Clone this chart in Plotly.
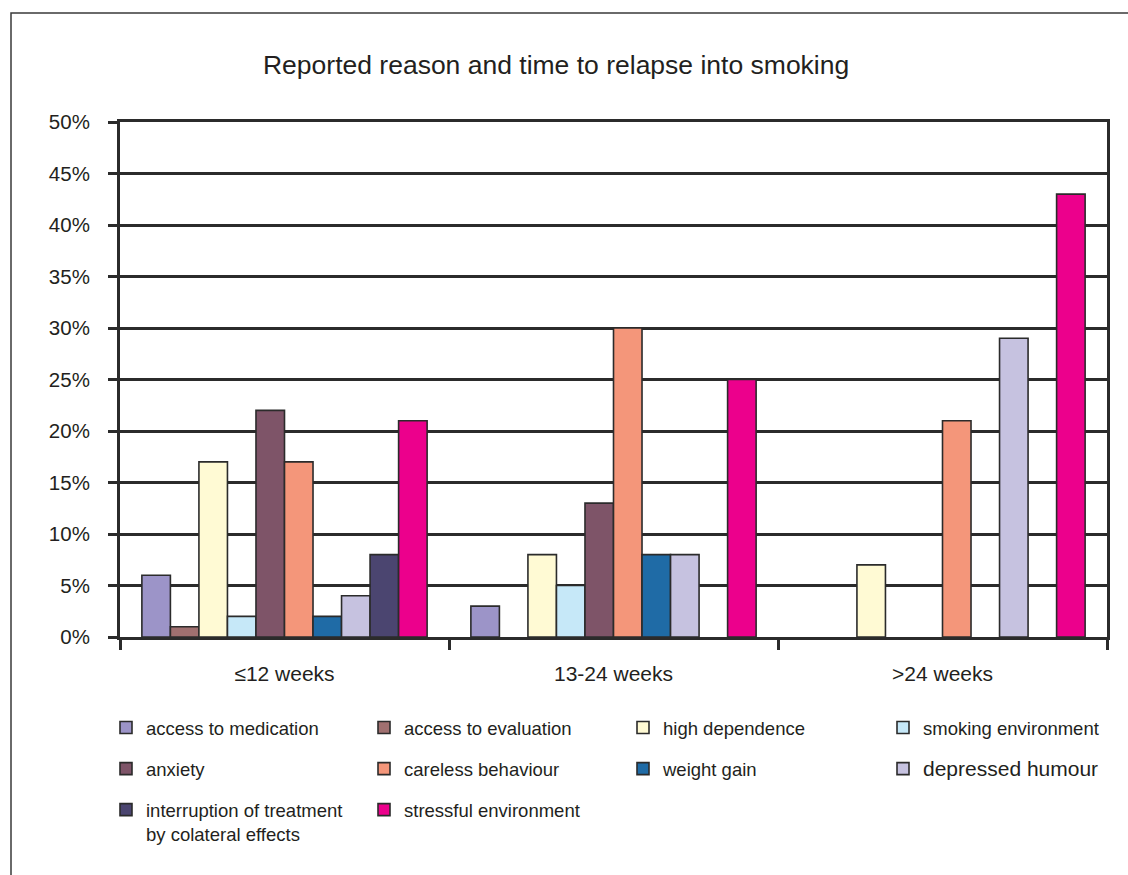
import plotly.graph_objects as go

categories = ["≤12 weeks", "13-24 weeks", ">24 weeks"]

series_names = [
    "access to medication",
    "access to evaluation",
    "high dependence",
    "smoking environment",
    "anxiety",
    "careless behaviour",
    "weight gain",
    '<span style="font-size:21px">depressed humour</span>',
    "interruption of treatment<br>by colateral effects",
    "stressful environment",
]

access_to_medication = [6, 3, 0]
access_to_evaluation = [1, 0, 0]
high_dependence = [17, 8, 7]
smoking_environment = [2, 5, 0]
anxiety = [22, 13, 0]
careless_behaviour = [17, 30, 21]
weight_gain = [2, 8, 0]
depressed_humour = [4, 8, 29]
interruption_of_treatment = [8, 0, 0]
stressful_environment = [21, 25, 43]

series_values = [
    access_to_medication, access_to_evaluation, high_dependence,
    smoking_environment, anxiety, careless_behaviour, weight_gain,
    depressed_humour, interruption_of_treatment, stressful_environment,
]

colors = [
    "#9c94c8", "#a07070", "#fffad4", "#c6e8f8", "#7e5468",
    "#f4967a", "#1f6ba6", "#c6c2e0", "#4b4570", "#ec008c",
]

# legend columns (left to right)
legend_ids = ["legend", "legend2", "legend3", "legend4",
              "legend", "legend2", "legend3", "legend4",
              "legend", "legend2"]

TEXT = "#231f20"
LINE = "#2b2b2b"
FONT = "Liberation Sans, Arial, sans-serif"

fig = go.Figure()
for i, (name, vals, col, lg) in enumerate(zip(series_names, series_values, colors, legend_ids)):
    fig.add_trace(go.Bar(
        x=categories, y=vals, name=name,
        marker=dict(color=col,
                    line=dict(color=LINE, width=[1.6 if v else 0 for v in vals])),
        legend=lg, legendgroup=f"g{i}",
    ))

legend_common = dict(
    orientation="v", tracegroupgap=14,
    font=dict(family=FONT, size=18.5, color=TEXT),
    bgcolor="rgba(0,0,0,0)", borderwidth=0,
    xref="paper", xanchor="left",
    yref="paper", yanchor="top", valign="top",
    y=(637 - 709) / 515,
    itemclick=False, itemdoubleclick=False,
)

col_left_px = [120, 378, 637, 897]


def lx(px):
    return (px - 14 - 120) / 987


fig.update_layout(
    width=1128, height=875,
    margin=dict(l=120, r=21, t=122, b=238),
    paper_bgcolor="white", plot_bgcolor="white",
    font=dict(family=FONT, color=TEXT),
    barmode="group", bargap=0.133, bargroupgap=0,
    title=dict(
        text="Reported reason and time to relapse into smoking",
        font=dict(family=FONT, size=26.5, color=TEXT),
        xref="container", x=0.493, xanchor="center",
        yref="container", y=1 - 65 / 875, yanchor="middle",
    ),
    xaxis=dict(
        type="category",
        showline=True, linecolor=LINE, linewidth=3, mirror=True,
        ticks="outside", ticklen=10, tickwidth=2.5, tickcolor=LINE,
        tickson="boundaries",
        tickfont=dict(family=FONT, size=21, color=TEXT),
        ticklabelstandoff=16,
        showgrid=False,
    ),
    yaxis=dict(
        range=[0, 50], dtick=5, tick0=0, ticksuffix="%",
        showline=True, linecolor=LINE, linewidth=3, mirror=True,
        ticks="outside", ticklen=9, tickwidth=2.5, tickcolor=LINE,
        tickfont=dict(family=FONT, size=20.5, color=TEXT),
        ticklabelstandoff=14,
        showgrid=True, gridcolor=LINE, gridwidth=2.5,
        zeroline=False,
    ),
    legend=dict(legend_common, x=lx(col_left_px[0])),
    legend2=dict(legend_common, x=lx(col_left_px[1])),
    legend3=dict(legend_common, x=lx(col_left_px[2])),
    legend4=dict(legend_common, x=lx(col_left_px[3])),
    shapes=[dict(
        type="rect", xref="paper", yref="paper",
        x0=(11 - 120) / 987, x1=(1140 - 120) / 987,
        y0=(637 - 890) / 515, y1=(637 - 13) / 515,
        line=dict(color="#3a3a3a", width=1.5), fillcolor="rgba(0,0,0,0)",
        layer="below",
    )],
)

fig.write_html("out.html")
